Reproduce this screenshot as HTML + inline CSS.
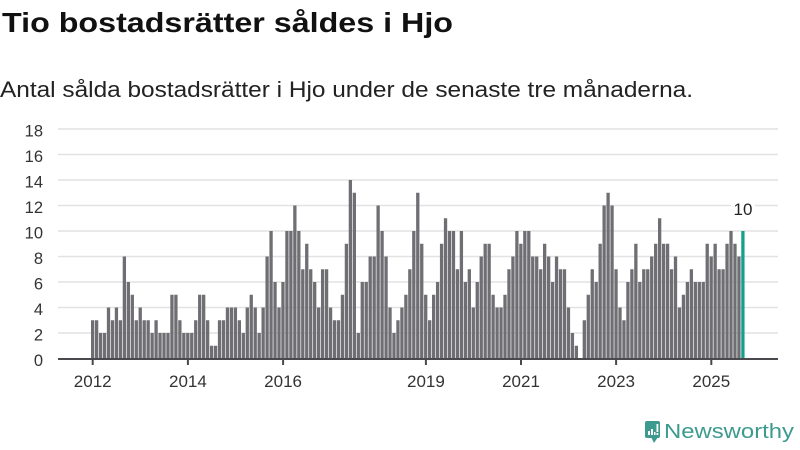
<!DOCTYPE html>
<html><head><meta charset="utf-8"><style>
html,body{margin:0;padding:0;background:#fff;}
body{width:800px;height:450px;overflow:hidden;}
svg{display:block;}
</style></head><body>
<svg width="800" height="450" viewBox="0 0 800 450" xmlns="http://www.w3.org/2000/svg" font-family="'Liberation Sans', sans-serif">
<rect width="800" height="450" fill="#fff"/>
<text x="2" y="32" font-size="28" font-weight="bold" fill="#111" textLength="451" lengthAdjust="spacingAndGlyphs">Tio bostadsrätter såldes i Hjo</text>
<text x="0" y="97" font-size="22.5" fill="#222" textLength="693" lengthAdjust="spacingAndGlyphs">Antal sålda bostadsrätter i Hjo under de senaste tre månaderna.</text>
<path d="M58 333H778M58 307.5H778M58 282H778M58 256.5H778M58 231H778M58 205.5H778M58 180H778M58 154.5H778M58 129H778" stroke="#e2e2e2" stroke-width="1.5" fill="none"/>
<g font-size="16.5" fill="#333" text-anchor="end">
<text x="43" y="366">0</text>
<text x="43" y="340.5">2</text>
<text x="43" y="315">4</text>
<text x="43" y="289.5">6</text>
<text x="43" y="264">8</text>
<text x="43" y="238.5">10</text>
<text x="43" y="213">12</text>
<text x="43" y="187.5">14</text>
<text x="43" y="162">16</text>
<text x="43" y="136.5">18</text>
</g>
<path transform="matrix(1,0,0,-12.75,0,358.5)" fill="#6f6e73" d="M91 0
v3h3.3v-3h.665v3h3.3v-3h.665v2h3.3v-2h.665v2h3.3v-2h.665v4h3.3v-4h.665v3h3.3v-3h.665v4h3.3v-4h.665v3h3.3v-3h.665v8h3.3v-8h.665v6h3.3v-6h.665v5h3.3v-5h.665v3h3.3v-3h.665
v4h3.3v-4h.665v3h3.3v-3h.665v3h3.3v-3h.665v2h3.3v-2h.665v3h3.3v-3h.665v2h3.3v-2h.665v2h3.3v-2h.665v2h3.3v-2h.665v5h3.3v-5h.665v5h3.3v-5h.665v3h3.3v-3h.665v2h3.3v-2h.665
v2h3.3v-2h.665v2h3.3v-2h.665v3h3.3v-3h.665v5h3.3v-5h.665v5h3.3v-5h.665v3h3.3v-3h.665v1h3.3v-1h.665v1h3.3v-1h.665v3h3.3v-3h.665v3h3.3v-3h.665v4h3.3v-4h.665v4h3.3v-4h.665
v4h3.3v-4h.665v3h3.3v-3h.665v2h3.3v-2h.665v4h3.3v-4h.665v5h3.3v-5h.665v4h3.3v-4h.665v2h3.3v-2h.665v4h3.3v-4h.665v8h3.3v-8h.665v10h3.3v-10h.665v6h3.3v-6h.665v4h3.3v-4h.665
v6h3.3v-6h.665v10h3.3v-10h.665v10h3.3v-10h.665v12h3.3v-12h.665v10h3.3v-10h.665v7h3.3v-7h.665v9h3.3v-9h.665v7h3.3v-7h.665v6h3.3v-6h.665v4h3.3v-4h.665v7h3.3v-7h.665v7h3.3v-7h.665
v4h3.3v-4h.665v3h3.3v-3h.665v3h3.3v-3h.665v5h3.3v-5h.665v9h3.3v-9h.665v14h3.3v-14h.665v13h3.3v-13h.665v2h3.3v-2h.665v6h3.3v-6h.665v6h3.3v-6h.665v8h3.3v-8h.665v8h3.3v-8h.665
v12h3.3v-12h.665v10h3.3v-10h.665v8h3.3v-8h.665v4h3.3v-4h.665v2h3.3v-2h.665v3h3.3v-3h.665v4h3.3v-4h.665v5h3.3v-5h.665v7h3.3v-7h.665v10h3.3v-10h.665v13h3.3v-13h.665v9h3.3v-9h.665
v5h3.3v-5h.665v3h3.3v-3h.665v5h3.3v-5h.665v6h3.3v-6h.665v9h3.3v-9h.665v11h3.3v-11h.665v10h3.3v-10h.665v10h3.3v-10h.665v7h3.3v-7h.665v10h3.3v-10h.665v6h3.3v-6h.665v7h3.3v-7h.665
v4h3.3v-4h.665v6h3.3v-6h.665v8h3.3v-8h.665v9h3.3v-9h.665v9h3.3v-9h.665v5h3.3v-5h.665v4h3.3v-4h.665v4h3.3v-4h.665v5h3.3v-5h.665v7h3.3v-7h.665v8h3.3v-8h.665v10h3.3v-10h.665
v9h3.3v-9h.665v10h3.3v-10h.665v10h3.3v-10h.665v8h3.3v-8h.665v8h3.3v-8h.665v7h3.3v-7h.665v9h3.3v-9h.665v8h3.3v-8h.665v6h3.3v-6h.665v8h3.3v-8h.665v7h3.3v-7h.665v7h3.3v-7h.665
v4h3.3v-4h.665v2h3.3v-2h.665v1h3.3v-1h.665h3.965v3h3.3v-3h.665v5h3.3v-5h.665v7h3.3v-7h.665v6h3.3v-6h.665v9h3.3v-9h.665v12h3.3v-12h.665v13h3.3v-13h.665v12h3.3v-12h.665
v7h3.3v-7h.665v4h3.3v-4h.665v3h3.3v-3h.665v6h3.3v-6h.665v7h3.3v-7h.665v9h3.3v-9h.665v6h3.3v-6h.665v7h3.3v-7h.665v7h3.3v-7h.665v8h3.3v-8h.665v9h3.3v-9h.665v11h3.3v-11h.665
v9h3.3v-9h.665v9h3.3v-9h.665v7h3.3v-7h.665v8h3.3v-8h.665v4h3.3v-4h.665v5h3.3v-5h.665v6h3.3v-6h.665v7h3.3v-7h.665v6h3.3v-6h.665v6h3.3v-6h.665v6h3.3v-6h.665v9h3.3v-9h.665
v8h3.3v-8h.665v9h3.3v-9h.665v7h3.3v-7h.665v7h3.3v-7h.665v9h3.3v-9h.665v10h3.3v-10h.665v9h3.3v-9h.665v8h3.3v-8h.665Z"/>
<rect x="741.26" y="231" width="3.3" height="127.5" fill="#14a090"/>
<rect x="731" y="199" width="24" height="18" fill="#fff"/>
<text x="743" y="215" font-size="17" fill="#222" text-anchor="middle">10</text>
<path d="M58 359H778M92.7 359V365M187.9 359V365M283.1 359V365M425.9 359V365M521 359V365M616.1 359V365M711.3 359V365" stroke="#4a4a4e" stroke-width="2" fill="none"/>
<g font-size="17" fill="#333" text-anchor="middle">
<text x="92.7" y="387">2012</text>
<text x="187.9" y="387">2014</text>
<text x="283.1" y="387">2016</text>
<text x="425.9" y="387">2019</text>
<text x="521" y="387">2021</text>
<text x="616.1" y="387">2023</text>
<text x="711.3" y="387">2025</text>
</g>
<rect x="645" y="421" width="15" height="17" rx="2" fill="#3d9a8e"/>
<polygon points="651,437 658,437 654,443" fill="#3d9a8e"/>
<path d="M648 431h2v4h-2zM651 429h2v6h-2zM654 432h1.5v3h-1.5zM656.5 424h1.8v8h-1.8zM656.5 433h1.8v2h-1.8z" fill="#fff"/>
<text x="664" y="438" font-size="20" fill="#3d9a8e" textLength="130" lengthAdjust="spacingAndGlyphs">Newsworthy</text>
</svg>
</body></html>
